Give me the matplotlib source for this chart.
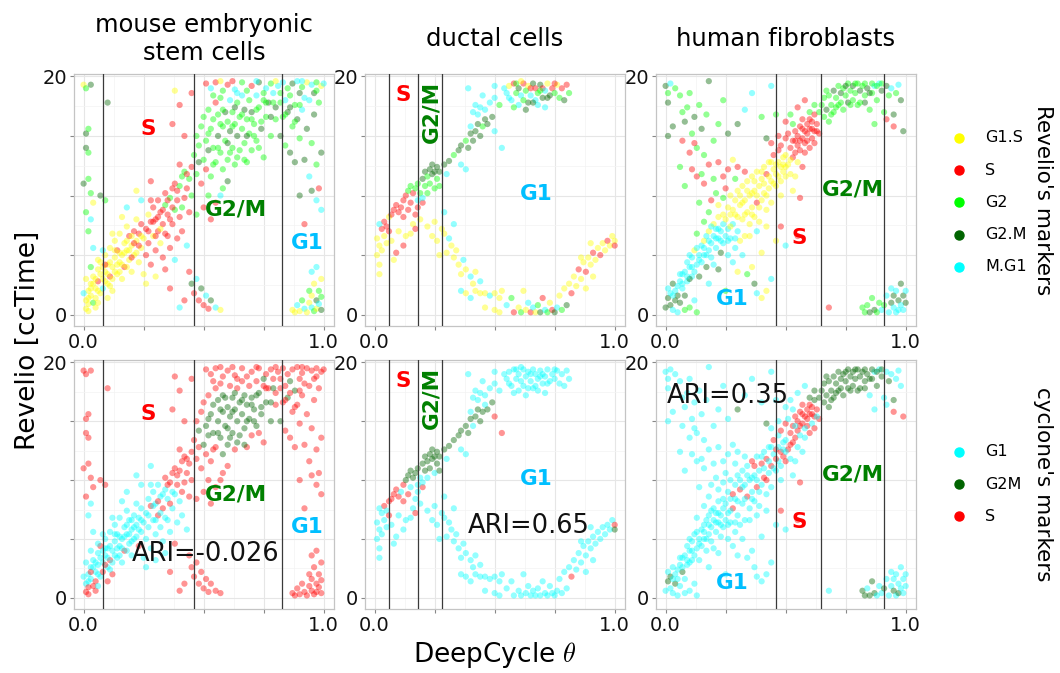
import matplotlib
matplotlib.use("Agg")
import matplotlib.pyplot as plt
from matplotlib.lines import Line2D

plt.rcParams['font.family'] = ['DejaVu Sans']
plt.rcParams['mathtext.fontset'] = 'cm'

# ---------------------------------------------------------------------------
# data: DeepCycle theta, Revelio ccTime, Revelio phase, cyclone phase per cell
# phase codes  revelio: y=G1.S s=S g=G2 d=G2.M c=M.G1   cyclone: c=G1 d=G2M s=S
# ---------------------------------------------------------------------------
mesc_theta = [
    0.01, 0.01, 0.02, 0.02, 0.03, 0.03, 0.04, 0.04, 0.05, 0.05,
    0.06, 0.06, 0.07, 0.07, 0.08, 0.08, 0.09, 0.09, 0.10, 0.10,
    0.11, 0.11, 0.12, 0.12, 0.13, 0.13, 0.14, 0.14, 0.15, 0.15,
    0.16, 0.16, 0.17, 0.17, 0.18, 0.18, 0.19, 0.19, 0.20, 0.20,
    0.21, 0.21, 0.22, 0.22, 0.23, 0.23, 0.24, 0.24, 0.25, 0.25,
    0.00, 0.01, 0.02, 0.03, 0.05, 0.06, 0.08, 0.10, 0.12, 0.04,
    0.26, 0.26, 0.27, 0.27, 0.28, 0.28, 0.29, 0.29, 0.30, 0.30,
    0.31, 0.31, 0.32, 0.32, 0.33, 0.33, 0.34, 0.34, 0.35, 0.35,
    0.36, 0.36, 0.37, 0.37, 0.38, 0.38, 0.39, 0.39, 0.40, 0.40,
    0.41, 0.41, 0.42, 0.42, 0.43, 0.43, 0.44, 0.44, 0.45, 0.45,
    0.24, 0.22, 0.28, 0.18, 0.30, 0.34, 0.38, 0.16, 0.26, 0.36,
    0.44, 0.45, 0.46, 0.47, 0.48, 0.49, 0.50, 0.51, 0.52, 0.53, 0.55, 0.57, 0.42, 0.40,
    0.46, 0.47, 0.47, 0.48, 0.48, 0.49, 0.49, 0.50, 0.50, 0.51,
    0.51, 0.52, 0.52, 0.53, 0.53, 0.54, 0.54, 0.55, 0.55, 0.56,
    0.56, 0.57, 0.57, 0.58, 0.58, 0.59, 0.59, 0.60, 0.60, 0.61,
    0.61, 0.62, 0.62, 0.63, 0.63, 0.64, 0.64, 0.65, 0.65, 0.66,
    0.66, 0.67, 0.67, 0.68, 0.68, 0.69, 0.69, 0.70, 0.70, 0.71,
    0.72, 0.72, 0.73, 0.74, 0.75, 0.75, 0.76, 0.77, 0.78, 0.79,
    0.80, 0.80, 0.50, 0.52, 0.55, 0.58, 0.60, 0.47, 0.53, 0.57,
    0.51, 0.53, 0.55, 0.58, 0.60, 0.63, 0.66, 0.70, 0.73, 0.76,
    0.78, 0.81, 0.83, 0.85, 0.87, 0.89, 0.91, 0.93, 0.95, 0.97,
    0.99, 0.86, 0.92, 0.96, 0.88, 0.84, 0.98,
    0.54, 0.62, 0.68, 0.72, 0.75, 0.80, 0.82, 0.90, 0.94, 0.97, 1.00, 0.57, 0.64, 0.79, 0.91,
    0.82, 0.83, 0.84, 0.85, 0.86, 0.87, 0.88, 0.89, 0.90, 0.91,
    0.92, 0.93, 0.94, 0.95, 0.96, 0.97, 0.98, 0.99, 0.99, 0.97, 0.95, 0.92, 0.90,
    0.87, 0.88, 0.89, 0.90, 0.91, 0.92, 0.93, 0.94, 0.94, 0.95,
    0.95, 0.96, 0.96, 0.97, 0.97, 0.98, 0.98, 0.99, 0.99, 0.99, 0.95, 0.97,
    0.00, 0.01, 0.03, 0.01, 0.02, 0.01, 0.02, 0.00, 0.02, 0.03,
    0.01, 0.03, 0.04, 0.02, 0.10, 0.09, 0.07, 0.37, 0.40, 0.42, 0.38, 0.45,
    0.02, 0.03, 0.04, 0.05, 0.06, 0.07, 0.08, 0.09, 0.10, 0.11,
    0.12, 0.13, 0.14, 0.15, 0.16, 0.17, 0.18, 0.19, 0.20, 0.21,
    0.22, 0.23, 0.24, 0.13, 0.09, 0.06, 0.11, 0.18, 0.15, 0.20,
    0.27, 0.29, 0.31, 0.33, 0.35, 0.37, 0.39, 0.41, 0.43, 0.30,
    0.32, 0.34, 0.36, 0.28, 0.40,
    0.52, 0.54, 0.56, 0.58, 0.60, 0.62, 0.64, 0.66, 0.68, 0.70,
    0.72, 0.74, 0.76, 0.78, 0.82, 0.84, 0.86, 0.88, 0.90, 0.57,
    0.61, 0.63, 0.67, 0.71, 0.73,
]
mesc_cctime = [
    0.5, 1.2, 2.0, 0.9, 1.6, 2.6, 1.0, 3.2, 2.2, 1.4,
    2.8, 3.8, 1.8, 4.4, 3.0, 2.2, 3.6, 5.0, 2.6, 4.2,
    3.2, 5.6, 4.0, 2.0, 4.8, 6.2, 3.4, 5.4, 4.4, 6.8,
    5.0, 3.0, 6.0, 4.0, 5.4, 7.4, 4.6, 6.6, 5.8, 3.6,
    7.0, 5.0, 6.2, 8.0, 4.4, 6.8, 5.6, 7.6, 6.4, 3.4,
    1.8, 3.0, 0.3, 4.0, 0.6, 1.0, 5.4, 1.4, 6.8, 5.6,
    5.0, 7.2, 8.4, 6.0, 4.2, 7.8, 6.6, 9.0, 5.4, 8.0,
    7.0, 9.6, 6.0, 8.6, 4.8, 7.6, 9.2, 10.2, 6.6, 8.4,
    9.8, 5.6, 7.6, 10.6, 8.8, 11.0, 6.4, 9.6, 10.8, 8.2,
    11.6, 7.0, 9.8, 12.0, 10.6, 5.8, 11.4, 8.6, 12.4, 10.0,
    9.6, 10.4, 11.2, 9.0, 3.2, 3.8, 4.6, 8.2, 2.6, 2.2,
    3.6, 2.6, 1.8, 3.0, 1.2, 2.2, 0.8, 1.6, 0.5, 1.2, 0.6, 0.4, 1.2, 0.6,
    13.4, 11.8, 15.0, 12.8, 14.2, 11.0, 15.8, 13.0, 16.6, 12.2,
    14.6, 17.2, 13.8, 15.6, 11.6, 16.4, 14.0, 12.8, 17.8, 15.0,
    16.8, 13.6, 18.2, 15.8, 12.2, 17.0, 14.6, 16.2, 13.0, 18.0,
    15.4, 17.0, 14.0, 16.0, 12.6, 17.8, 15.0, 16.6, 13.8, 18.4,
    15.6, 17.2, 14.4, 16.4, 12.8, 18.0, 15.2, 17.0, 13.8, 16.0,
    18.4, 14.6, 17.4, 15.6, 18.0, 13.2, 16.6, 17.8, 15.0, 18.6,
    16.4, 17.4, 9.0, 10.0, 9.4, 10.6, 11.2, 8.4, 8.0, 10.0,
    19.4, 19.0, 19.5, 18.8, 19.3, 18.9, 19.5, 19.2, 19.5, 19.0,
    19.4, 19.2, 19.5, 19.0, 19.4, 19.6, 19.1, 19.5, 19.3, 19.5,
    19.2, 18.4, 18.2, 18.6, 17.6, 18.0, 17.8,
    18.4, 19.6, 18.8, 19.6, 18.6, 19.6, 18.6, 18.6, 18.0, 18.8, 19.4, 19.6, 18.6, 17.8, 19.6,
    15.0, 16.6, 14.2, 17.0, 13.6, 15.8, 12.8, 16.4, 14.8, 17.2,
    13.0, 15.6, 11.6, 14.4, 16.8, 12.6, 10.6, 13.6, 8.8, 9.6, 10.4, 7.6, 10.0,
    0.4, 0.2, 0.8, 0.3, 1.2, 0.5, 0.2, 1.0, 2.0, 0.6,
    1.6, 0.3, 2.6, 1.2, 0.5, 2.0, 0.9, 3.0, 1.5, 0.4, 3.6, 4.0,
    19.3, 19.0, 19.3, 15.2, 15.6, 14.0, 13.6, 11.0, 11.4, 10.2,
    8.6, 8.0, 9.4, 7.0, 17.8, 9.6, 10.0, 16.0, 17.6, 15.0, 18.8, 18.6,
    1.4, 2.2, 2.6, 3.0, 2.0, 3.4, 4.0, 2.8, 3.4, 4.4,
    3.0, 5.4, 4.2, 5.2, 4.2, 5.2, 6.2, 5.4, 6.6, 6.0,
    5.2, 5.8, 6.6, 3.6, 4.2, 4.6, 2.4, 4.0, 3.6, 4.8,
    7.0, 7.8, 8.2, 8.8, 9.6, 9.0, 10.4, 9.0, 11.8, 6.6,
    7.2, 6.8, 8.0, 9.6, 12.6,
    15.2, 12.6, 14.0, 17.2, 14.4, 15.8, 13.2, 16.8, 15.0, 16.4,
    17.2, 16.2, 17.8, 16.6, 17.8, 16.8, 17.4, 16.2, 17.6, 16.0,
    13.6, 17.4, 13.0, 15.0, 14.0,
]
mesc_revelio = (
    "yyyyyygyyy" "syyyycyyyy" "syyyyyysyy" "yyysyyysyy" "syyyysysyy" "cyygyycyyc"
    "ssysssysss" "ssysssgsss" "gsssgsssgs" "gssgscgssg" "cyscyscyys"
    "sdscsdscsdcysc"
    "gggdgsgggs" "ggdgggggsd" "gggggdgggc" "dgggggdggc" "gdgggggdgg" "cggdgggdgc" "gdsgsgdgsc"
    "scsgscgsdc" "gccgdcgycg" "ygcdgcg" "gsgcgygdcgcycgc"
    "dggddgddgc" "ddcgdgsdcc" "dsd"
    "yycygcyygc" "ygydygcygd" "cc"
    "ygddgdgdgg" "gcygdgdsss" "ys"
    "yyyyyyyyyy" "yyyyyyyyys" "ysyysyyyys"
    "sssssssgss" "yssss"
    "ggggdgggdg" "gggdggdggg" "gdggg"
)
mesc_cyclone = (
    "sccsccsccs" "cccscscccc" "sccscccccc" "cccscccccc" "ccccsccccc" "ccscsccscc"
    "cccccscccc" "sccccscscc" "sccscscssc" "scssscssss" "ccccccsccs"
    "ssssssssssssss"
    "ssssdssdss" "dsddsddssd" "ddsdddddds" "ddddssddds" "ddddssddsd" "sdddssdsds" "ssssssssss"
    "ssssssssss" "ssssssssss" "sdssdss" "ssssdssssssssds"
    "dssdssssss" "ssssssssss" "sss"
    "ssssssssss" "ssssssssss" "ss"
    "ssssssssss" "scscssssss" "ss"
    "cscccccscc" "cccccccccc" "cccccccccc"
    "ccscscsssc" "ccscs"
    "dsdddddddd" "ddsdsssssd" "dddds"
)

ductal_theta = [
    0.01, 0.02, 0.01, 0.03, 0.02, 0.04, 0.03, 0.04, 0.05, 0.06, 0.06, 0.07, 0.02, 0.05, 0.02, 0.07, 0.08,
    0.08, 0.09, 0.10, 0.11, 0.12, 0.12, 0.13, 0.14, 0.15, 0.16, 0.16, 0.17, 0.17, 0.18, 0.19, 0.20,
    0.10, 0.13, 0.15, 0.12, 0.09,
    0.14, 0.15, 0.17, 0.18, 0.19, 0.20, 0.21, 0.21, 0.22, 0.23, 0.23, 0.24, 0.24, 0.25, 0.26, 0.26,
    0.27, 0.25, 0.27, 0.20, 0.18, 0.22,
    0.29, 0.31, 0.33, 0.35, 0.36, 0.38, 0.39, 0.40, 0.41, 0.42, 0.43, 0.44, 0.45, 0.46, 0.47, 0.49,
    0.50, 0.36, 0.38, 0.40, 0.41, 0.42, 0.43, 0.44, 0.46, 0.48, 0.50, 0.52, 0.54, 0.39, 0.50, 0.45,
    0.53, 0.30,
    0.55, 0.56, 0.57, 0.58, 0.59, 0.60, 0.60, 0.61, 0.62, 0.63, 0.64, 0.64, 0.65, 0.66, 0.67, 0.67,
    0.68, 0.69, 0.70, 0.70, 0.71, 0.72, 0.73, 0.74, 0.75, 0.76, 0.77, 0.78, 0.80, 0.81, 0.79, 0.63,
    0.58, 0.68,
    0.22, 0.24, 0.25, 0.26, 0.28, 0.29, 0.30, 0.31, 0.32, 0.33,
    0.34, 0.35, 0.36, 0.37, 0.38, 0.40, 0.41, 0.42, 0.44, 0.36,
    0.38, 0.40, 0.42, 0.44, 0.46, 0.48, 0.50, 0.52, 0.53, 0.46,
    0.50, 0.52, 0.55, 0.57, 0.58, 0.60, 0.61, 0.63, 0.64, 0.65,
    0.66, 0.67, 0.68, 0.69, 0.70, 0.71, 0.72, 0.73, 0.74, 0.75,
    0.76, 0.77, 0.78, 0.79, 0.80, 0.81, 0.82, 0.83, 0.84, 0.85,
    0.86, 0.87, 0.88, 0.89, 0.90, 0.91, 0.92, 0.93, 0.94, 0.95,
    0.96, 0.97, 0.98, 0.99, 1.00, 0.88, 0.91, 0.86, 0.90, 0.62,
    0.27, 0.33, 0.29, 1.00,
    0.56, 0.59, 0.62, 0.65, 0.69, 0.72, 0.75, 0.66, 0.71, 0.61,
]
ductal_cctime = [
    5.0, 5.8, 6.4, 5.4, 4.2, 6.6, 7.2, 7.8, 7.4, 8.2, 7.0, 8.4, 7.6, 6.0, 3.4, 6.2, 4.6,
    8.8, 9.2, 8.6, 9.0, 9.6, 8.2, 10.0, 8.8, 9.4, 7.6, 10.2, 8.4, 7.2, 9.0, 8.0, 9.4,
    7.0, 6.6, 6.8, 5.8, 5.2,
    10.4, 10.8, 10.6, 11.0, 10.2, 11.4, 10.8, 12.0, 11.6, 12.2, 11.0, 12.6, 11.8, 12.0, 12.4, 11.4,
    12.0, 10.6, 10.8, 9.8, 9.6, 10.2,
    12.6, 12.9, 13.4, 13.8, 14.2, 14.6, 14.0, 15.2, 14.6, 15.4, 16.0, 15.0, 15.8, 16.4, 16.0, 16.6,
    15.4, 12.6, 12.2, 15.8, 17.0, 17.6, 16.8, 17.4, 17.2, 17.8, 18.2, 17.6, 19.0, 19.0, 19.2, 18.4,
    14.0, 11.8,
    18.6, 19.2, 18.0, 19.4, 18.6, 17.6, 19.0, 18.4, 19.4, 18.8, 17.8, 19.2, 18.4, 19.4, 18.0, 19.0,
    18.6, 19.3, 18.2, 19.0, 18.8, 19.4, 18.4, 19.0, 18.6, 19.3, 18.2, 19.0, 19.3, 18.6, 18.0, 17.2,
    17.4, 17.6,
    7.4, 6.6, 7.8, 6.2, 7.2, 6.8, 5.2, 6.4, 5.8, 4.8,
    5.4, 4.2, 3.4, 4.6, 3.8, 3.2, 2.6, 3.6, 2.8, 2.0,
    1.8, 1.4, 2.0, 1.8, 1.8, 1.6, 1.8, 1.4, 2.0, 0.6,
    0.4, 0.2, 0.8, 1.4, 0.2, 0.6, 0.2, 0.4, 1.0, 0.2,
    0.6, 0.2, 0.8, 0.2, 1.4, 0.4, 0.2, 1.0, 0.4, 0.2,
    0.6, 1.6, 0.4, 2.2, 0.8, 2.6, 1.8, 3.2, 2.4, 3.8,
    3.0, 4.4, 3.6, 4.8, 4.2, 5.2, 4.6, 5.6, 5.0, 6.0,
    5.4, 6.2, 5.8, 6.6, 6.2, 2.2, 3.2, 4.8, 6.0, 2.0,
    5.0, 7.6, 8.6, 5.8,
    18.2, 19.4, 18.0, 19.0, 18.8, 18.2, 19.4, 17.8, 17.4, 19.6,
]
ductal_revelio = (
    "yyyyyysssy" "sscyyyy"
    "sssssssssy" "ssssysyyys" "s"
    "gggggdgdgd" "gddddgdggc" "cg"
    "ddgddgdddd" "ddgdddcccc" "cccccccgcc" "cccc"
    "cycsgcdcsg" "dycdcsgdds" "cydsgygssg" "ddgc"
    "yyyyyyycyy" "yyycycyycc" "ycyyycyyyy" "yycgsygycs" "cygdscgysd"
    "cygydysyys" "yysyysyysy" "ysyyyyyyyy" "yccs"
    "cggsgdsdcy"
)
ductal_cyclone = (
    "cccccccscs" "ssccccc"
    "ssscssdscc" "dcsccscccc" "c"
    "ddddcddddd" "dddddddcdc" "cc"
    "ddddddddcd" "dddcddsccc" "cccccccccc" "ccsc"
    "cccccccccc" "cccccccccc" "cccccccccc" "cccc"
    "cccccccccc" "cccccccccc" "cccccccccc" "cccccccccc" "cccccccccc"
    "ccccccsccc" "cccccccccc" "ccccsccccc" "cccd"
    "cccccccccc"
)

fibro_theta = [
    0.00, 0.01, 0.01, 0.02, 0.02, 0.03, 0.03, 0.04, 0.04, 0.05, 0.05, 0.06, 0.06, 0.07, 0.07, 0.08,
    0.08, 0.09, 0.10, 0.11, 0.12, 0.13,
    0.08, 0.09, 0.10, 0.10, 0.11, 0.12, 0.12, 0.13, 0.14, 0.14,
    0.15, 0.15, 0.16, 0.16, 0.17, 0.17, 0.18, 0.18, 0.19, 0.19,
    0.20, 0.20, 0.21, 0.21, 0.22, 0.22, 0.23, 0.23, 0.24, 0.24,
    0.25, 0.25, 0.26, 0.27, 0.27, 0.28, 0.29, 0.30, 0.31, 0.32,
    0.33, 0.26, 0.18, 0.22, 0.28, 0.13, 0.16, 0.20,
    0.26, 0.27, 0.28, 0.29, 0.30, 0.30, 0.31, 0.32, 0.32, 0.33,
    0.34, 0.34, 0.35, 0.35, 0.36, 0.36, 0.37, 0.37, 0.38, 0.38,
    0.39, 0.39, 0.40, 0.40, 0.41, 0.41, 0.42, 0.42, 0.43, 0.43,
    0.44, 0.44, 0.45, 0.45, 0.46, 0.46, 0.47, 0.47, 0.48, 0.48,
    0.49, 0.50, 0.24, 0.22, 0.35, 0.38, 0.42, 0.33, 0.29, 0.25,
    0.48, 0.49, 0.50, 0.50, 0.51, 0.51, 0.52, 0.52, 0.53, 0.53,
    0.54, 0.54, 0.55, 0.55, 0.56, 0.56, 0.57, 0.57, 0.58, 0.58,
    0.59, 0.59, 0.60, 0.60, 0.61, 0.61, 0.62, 0.62, 0.63, 0.64,
    0.64, 0.57, 0.54, 0.56, 0.53, 0.58, 0.55, 0.52, 0.50, 0.47,
    0.44, 0.46,
    0.65, 0.66, 0.66, 0.67, 0.68, 0.68, 0.69, 0.70, 0.70, 0.71,
    0.72, 0.72, 0.73, 0.74, 0.74, 0.75, 0.76, 0.76, 0.77, 0.78,
    0.78, 0.79, 0.80, 0.80, 0.81, 0.82, 0.83, 0.84, 0.85, 0.86,
    0.87, 0.88, 0.89, 0.90, 0.91, 0.92, 0.93, 0.94, 0.95, 0.96,
    0.97, 0.98, 0.99, 0.95, 0.92, 0.87, 0.83,
    0.00, 0.01, 0.02, 0.01, 0.03, 0.04, 0.06, 0.07, 0.08, 0.09,
    0.10, 0.11, 0.12, 0.13, 0.14, 0.15, 0.16, 0.17, 0.18, 0.20,
    0.22, 0.24, 0.26, 0.30, 0.33, 0.36, 0.40, 0.42, 0.44, 0.01,
    0.07, 0.10, 0.11, 0.12, 0.13, 0.16, 0.18, 0.20, 0.22, 0.24,
    0.19, 0.21, 0.18, 0.14, 0.15, 0.06, 0.08, 0.26, 0.28, 0.30,
    0.82, 0.83, 0.84, 0.85, 0.86, 0.87, 0.88, 0.89, 0.90, 0.91,
    0.92, 0.93, 0.94, 0.94, 0.95, 0.95, 0.96, 0.96, 0.97, 0.97,
    0.98, 0.98, 0.99, 0.99, 1.00, 1.00, 0.68,
    0.40, 0.42, 0.44, 0.36, 0.38, 0.34, 0.30, 0.25, 0.37, 0.48, 0.50, 0.46, 0.40, 0.55,
    0.03, 0.05, 0.06, 0.07, 0.09, 0.10, 0.11, 0.13, 0.14, 0.16,
    0.17, 0.18, 0.19, 0.21, 0.22, 0.23, 0.24, 0.26, 0.27, 0.29,
    0.29, 0.31, 0.33, 0.34, 0.36, 0.37, 0.38, 0.39, 0.40, 0.41,
    0.42, 0.43, 0.44, 0.45, 0.46, 0.47, 0.48, 0.49, 0.36, 0.32,
    0.53, 0.55, 0.56, 0.57, 0.58, 0.59, 0.60, 0.61, 0.62, 0.63,
    0.54, 0.52, 0.50, 0.62, 0.60,
    0.67, 0.69, 0.71, 0.73, 0.75, 0.77, 0.79, 0.81, 0.83, 0.85,
    0.86, 0.88, 0.90,
]
fibro_cctime = [
    0.6, 1.4, 2.2, 0.8, 1.8, 0.4, 2.6, 1.2, 2.0, 0.2, 1.6, 2.8, 1.0, 2.2, 3.4, 1.6,
    0.4, 2.8, 0.6, 3.2, 1.2, 0.2,
    3.6, 4.4, 3.0, 4.0, 4.8, 3.6, 5.4, 4.2, 5.0, 3.2,
    5.8, 4.4, 6.2, 5.0, 4.0, 6.6, 5.4, 7.0, 6.0, 4.8,
    6.6, 7.6, 5.6, 7.2, 6.4, 8.2, 7.0, 5.2, 7.6, 6.0,
    8.0, 6.6, 7.2, 8.4, 6.4, 7.6, 5.6, 7.0, 6.2, 5.0,
    6.6, 5.0, 2.6, 3.8, 4.4, 6.8, 7.8, 4.2,
    9.0, 10.0, 8.8, 9.6, 8.2, 10.4, 9.2, 8.0, 10.8, 9.6,
    8.6, 11.2, 10.0, 7.6, 9.0, 11.6, 10.4, 8.2, 12.0, 9.4,
    10.8, 7.8, 11.4, 9.6, 12.4, 10.2, 8.8, 11.8, 10.6, 12.8,
    11.2, 9.4, 12.2, 13.4, 10.8, 12.6, 11.6, 13.8, 12.4, 10.0,
    13.2, 11.6, 9.8, 9.2, 6.6, 7.0, 7.4, 12.0, 11.4, 10.6,
    14.2, 12.0, 14.8, 13.4, 12.6, 15.2, 14.0, 11.8, 14.6, 16.0,
    13.6, 15.4, 12.8, 14.2, 15.8, 13.8, 14.8, 16.4, 15.4, 13.6,
    16.0, 14.6, 15.6, 17.0, 16.2, 14.8, 16.8, 15.4, 16.0, 17.0,
    15.2, 12.4, 11.6, 9.8, 10.4, 18.0, 17.4, 16.8, 16.2, 15.0,
    14.4, 16.8,
    17.6, 18.2, 16.6, 17.2, 18.4, 16.2, 17.6, 18.8, 17.0, 18.2,
    19.2, 17.6, 18.6, 19.0, 17.2, 18.4, 19.4, 17.8, 18.8, 19.2,
    18.0, 18.6, 19.4, 17.6, 18.8, 19.2, 18.4, 19.0, 17.2, 18.6,
    19.2, 18.0, 19.4, 18.8, 17.0, 19.2, 18.4, 19.0, 16.8, 18.6,
    19.3, 18.0, 15.4, 15.8, 16.4, 16.0, 17.8,
    19.2, 18.6, 19.4, 17.8, 15.8, 19.0, 18.4, 17.0, 16.2, 17.4,
    18.6, 15.2, 16.6, 14.0, 17.6, 15.6, 13.4, 16.8, 19.6, 14.6,
    16.0, 18.0, 15.2, 16.0, 17.2, 18.6, 16.6, 14.8, 19.2, 15.0,
    14.6, 13.6, 12.2, 14.4, 11.6, 11.0, 12.6, 11.4, 12.8, 11.6,
    9.6, 10.2, 8.6, 9.4, 11.8, 12.4, 10.8, 12.2, 13.0, 12.4,
    0.6, 0.2, 0.8, 0.2, 1.4, 0.4, 0.2, 1.0, 0.4, 0.8,
    1.6, 0.2, 1.0, 2.2, 0.6, 1.6, 0.2, 2.0, 1.2, 0.4,
    2.6, 0.8, 1.6, 0.4, 2.0, 1.0, 0.6,
    1.4, 2.0, 3.0, 4.0, 1.8, 3.4, 3.6, 2.0, 2.6, 7.4, 5.8, 6.2, 5.2, 6.6,
    1.6, 2.4, 3.4, 2.6, 3.2, 5.0, 4.0, 5.6, 4.6, 5.6,
    5.0, 6.2, 7.4, 6.4, 7.2, 6.2, 8.4, 6.2, 7.4, 6.4,
    8.4, 10.0, 8.4, 10.4, 10.2, 11.2, 10.0, 9.0, 12.0, 11.0,
    10.0, 11.6, 12.8, 11.0, 11.8, 12.8, 11.2, 12.6, 8.4, 9.4,
    13.2, 15.0, 14.6, 15.6, 14.4, 15.2, 16.4, 15.6, 14.4, 15.4,
    14.6, 13.0, 12.4, 17.6, 14.0,
    18.8, 16.8, 17.4, 17.8, 19.2, 17.6, 19.4, 17.8, 19.4, 18.6,
    19.4, 19.2, 19.4,
]
fibro_revelio = (
    "ddcdccddcc" "dcdccdgcgc" "cg"
    "ccdcccyccd" "ccycdccycc" "cycccycdcc" "yccyccccyc" "yccdcggc"
    "yyyyyyyyyy" "yyyyyyyyys" "yyyyyyysyy" "yyysyyysyy" "yygyycysgs"
    "sysyyssysg" "ssysssssss" "sssgsssssg" "ssysyssgss" "sg"
    "gggdgggdgg" "ggdggggdgd" "ggggdggdgg" "cgcdgdgcdg" "cddssgd"
    "dgcddgggdg" "ggdggdggdg" "ggddccgdcd" "sssssssgss" "sggggggsys"
    "gggdgdggcg" "ccdccdccdc" "dcdccds"
    "yycycgygdscyys"
    "cccccccccc" "ccccccycyc"
    "yyyyyyyyyy" "yyyyyyyyyy"
    "ssssssssss" "syygs"
    "ggggdggggd" "ggg"
)
fibro_cyclone = (
    "cdccdccdcc" "cccdcccccc" "cc"
    "cccccccccc" "cccccccccc" "cccccccccc" "cccccscccc" "cccccccc"
    "ccscccsccc" "sccccscccs" "ccsccscscc" "sccscsccsc" "cscccccccc"
    "ssscscscsc" "sscsscsssc" "sssdscdssd" "sccscccccc" "cc"
    "dddddddddd" "dddddddddd" "ddddddddcd" "cdcdccdcdc" "ccssccd"
    "cccccccccc" "cccccccccc" "cccdcccdcc" "cccccccccc" "cccccccccc"
    "ddcdddcccd" "ccccdccccd" "ccccccc"
    "cccccccccscccs"
    "cccccccccc" "cccccccccc"
    "cccccscccc" "scccsccccc"
    "sssscssssc" "cscds"
    "dddddddddd" "ddd"
)

# phase boundaries found by DeepCycle
mesc_cuts = [0.079, 0.458, 0.826]
ductal_cuts = [0.059, 0.179, 0.28]
fibro_cuts = [0.458, 0.648, 0.908]

ari_values = ["-0.026", "0.65", "0.35"]
titles = ["mouse embryonic\nstem cells", "ductal cells", "human fibroblasts"]

revelio_names = ["G1.S", "S", "G2", "G2.M", "M.G1"]
cyclone_names = ["G1", "G2M", "S"]

# ---------------------------------------------------------------------------
revelio_colors = {"y": "#FFFF00", "s": "#FF0000", "g": "#00FF00", "d": "#006400", "c": "#00FFFF"}
cyclone_colors = {"c": "#00FFFF", "d": "#006400", "s": "#FF0000"}
revelio_legend = ["#FFFF00", "#FF0000", "#00FF00", "#006400", "#00FFFF"]
cyclone_legend = ["#00FFFF", "#006400", "#FF0000"]

RED, GREEN, BLUE = "#FF0000", "#008000", "#00BFFF"

datasets = [
    (mesc_theta, mesc_cctime, mesc_revelio, mesc_cyclone, mesc_cuts),
    (ductal_theta, ductal_cctime, ductal_revelio, ductal_cyclone, ductal_cuts),
    (fibro_theta, fibro_cctime, fibro_revelio, fibro_cyclone, fibro_cuts),
]

# phase label placement per dataset: (text, x, y, colour, rotation)
phase_labels = [
    [("S", 0.27, 15.6, RED, 0), ("G2/M", 0.635, 8.8, GREEN, 0), ("G1", 0.93, 6.0, BLUE, 0)],
    [("S", 0.118, 18.4, RED, 0), ("G2/M", 0.236, 17.0, GREEN, 90), ("G1", 0.673, 10.1, BLUE, 0)],
    [("S", 0.555, 6.4, RED, 0), ("G2/M", 0.78, 10.5, GREEN, 0), ("G1", 0.277, 1.3, BLUE, 0)],
]
ari_pos = [(0.51, 3.7), (0.641, 6.1), (0.26, 17.1)]

W, H = 1060, 673
fig = plt.figure(figsize=(W / 100, H / 100), dpi=100)


def px_axes(left, top, width, height):
    return fig.add_axes([left / W, 1 - (top + height) / H, width / W, height / H])


def style(ax):
    ax.set_xlim(-0.04, 1.043)
    ax.set_ylim(-0.95, 20.2)
    ax.set_xticks([0, 0.25, 0.5, 0.75, 1.0])
    ax.set_xticklabels(["0.0", "", "", "", "1.0"])
    ax.set_yticks([0, 5, 10, 15, 20])
    ax.set_yticklabels(["0", "", "", "", "20"])
    ax.set_xticks([0.125, 0.375, 0.625, 0.875], minor=True)
    ax.set_yticks([2.5, 7.5, 12.5, 17.5], minor=True)
    ax.grid(which="major", color="#e6e6e6", lw=0.8)
    ax.grid(which="minor", color="#f3f3f3", lw=0.5)
    ax.set_axisbelow(True)
    ax.tick_params(which="minor", length=0)
    ax.tick_params(which="major", length=3, color="#888888", labelsize=14, pad=2,
                   labelcolor="#111111")
    for sp in ax.spines.values():
        sp.set_color("#c4c4c4")
        sp.set_linewidth(0.9)


lefts = [74, 365, 656]
rows = [(74, 252), (360, 249)]

for row, (top, height) in enumerate(rows):
    for col, (theta, cctime, rev, cyc, cuts) in enumerate(datasets):
        ax = px_axes(lefts[col], top, 260, height)
        style(ax)
        codes = rev if row == 0 else cyc
        cmap = revelio_colors if row == 0 else cyclone_colors
        n = min(len(theta), len(cctime), len(codes))
        if n != len(theta) or n != len(codes):
            print("length mismatch", row, col, len(theta), len(cctime), len(codes))
        ax.scatter(theta[:n], cctime[:n], c=[cmap[k] for k in codes[:n]],
                   s=20, alpha=0.42, linewidths=0, zorder=2)
        for c in cuts:
            ax.axvline(c, color="#3a3a3a", lw=0.9, zorder=3)
        for text, x, y, colour, rot in phase_labels[col]:
            ax.text(x, y, text, color=colour, fontsize=15.5, fontweight="bold",
                    rotation=rot, ha="center", va="center", zorder=4)
        if row == 1:
            ax.text(ari_pos[col][0], ari_pos[col][1], "ARI=" + ari_values[col],
                    fontsize=18.5, ha="center", va="center", color="#111111", zorder=4)
        if row == 0:
            fig.text((lefts[col] + 130) / W, 1 - 39 / H, titles[col], fontsize=17.5,
                     ha="center", va="center", linespacing=1.25)

# axis titles
fig.text(28 / W, 1 - 340 / H, "Revelio [ccTime]", rotation=90, fontsize=19,
         ha="center", va="center")
fig.text(495 / W, 1 - 655 / H, r"DeepCycle $\theta$", fontsize=19,
         ha="center", va="center")

# strip labels on the right
fig.text(1043 / W, 1 - 200 / H, "Revelio's markers", rotation=-90, fontsize=15.5,
         ha="center", va="center")
fig.text(1043 / W, 1 - 484 / H, "cyclone's markers", rotation=-90, fontsize=15.5,
         ha="center", va="center")

# legends
for names, cols, y0 in [(revelio_names, revelio_legend, 138), (cyclone_names, cyclone_legend, 452)]:
    for i, (name, colour) in enumerate(zip(names, cols)):
        yy = 1 - (y0 + i * 32.2) / H
        fig.add_artist(Line2D([959 / W], [yy], marker="o", ls="", color=colour,
                              markersize=6.5, transform=fig.transFigure))
        fig.text(985 / W, yy, name, fontsize=11.5, ha="left", va="center")

fig.savefig("out.png", dpi=100)
